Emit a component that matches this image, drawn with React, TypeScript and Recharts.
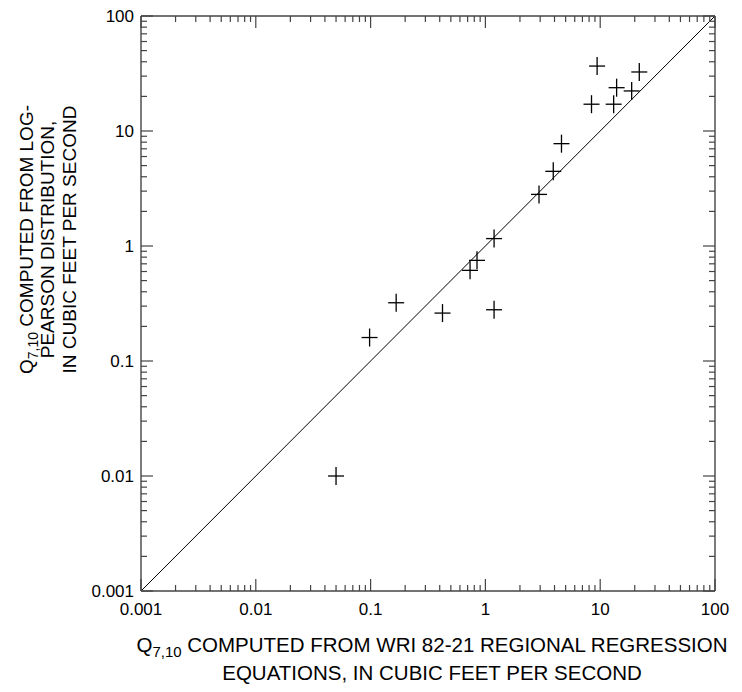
import { ScatterChart, Scatter, XAxis, YAxis, ReferenceLine } from 'recharts'

// Q7,10 regional regression (x) vs log-Pearson (y), cubic feet per second
const regression = [9.4, 21.9, 13.9, 18.8, 8.4, 13.1, 4.6, 3.9, 2.93, 1.19, 0.845, 0.735, 0.167, 0.098, 0.423, 1.19, 0.05]
const logPearson = [36.7, 32.6, 23.8, 22.3, 17.1, 17.1, 7.76, 4.46, 2.81, 1.16, 0.75, 0.614, 0.321, 0.16, 0.261, 0.279, 0.01]

const decades = [0.001, 0.01, 0.1, 1, 10, 100]
const minorSteps = [2, 3, 4, 5, 6, 7, 8, 9]

const points = regression.map((x, i) => ({ x, y: logPearson[i] }))
const ticks = decades.flatMap((d, i) =>
  i < decades.length - 1 ? [d, ...minorSteps.map(m => +(d * m).toPrecision(3))] : [d]
)
const oneToOne = [
  { x: decades[0], y: decades[0] },
  { x: decades[decades.length - 1], y: decades[decades.length - 1] },
]

const FONT = '"Liberation Sans", Arial, Helvetica, sans-serif'
const AXIS = '#444'
const MAJOR = 12
const MINOR = 6

const isMajor = (v: number) => Math.abs(Math.log10(v) - Math.round(Math.log10(v))) < 1e-6

// side: which edge of the frame the tick sits on; marks always point inward
function Tick(props: any) {
  const { x, y, payload, side } = props
  const v = payload.value
  const len = isMajor(v) ? MAJOR : MINOR
  const line =
    side === 'bottom' ? <line x1={x} x2={x} y1={y} y2={y - len} /> :
    side === 'top' ? <line x1={x} x2={x} y1={y} y2={y + len} /> :
    side === 'left' ? <line x1={x} x2={x + len} y1={y} y2={y} /> :
    <line x1={x} x2={x - len} y1={y} y2={y} />
  return (
    <g>
      <g stroke={AXIS} strokeWidth={1.2}>{line}</g>
      {isMajor(v) && side === 'bottom' && (
        <text x={x} y={y + 24} textAnchor="middle" fontSize={17} fontFamily={FONT} fill="#000">
          {String(v)}
        </text>
      )}
      {isMajor(v) && side === 'left' && (
        <text x={x - 7} y={y + 6} textAnchor="end" fontSize={17} fontFamily={FONT} fill="#000">
          {String(v)}
        </text>
      )}
    </g>
  )
}

function Plus({ cx, cy }: any) {
  return (
    <g stroke="#000" strokeWidth={1.3}>
      <line x1={cx - 8} x2={cx + 8} y1={cy} y2={cy} />
      <line x1={cx} x2={cx} y1={cy - 9} y2={cy + 9} />
    </g>
  )
}

function YTitle({ viewBox }: any) {
  const cy = viewBox.y + viewBox.height / 2 - 64
  const lines = ['PEARSON DISTRIBUTION,', 'IN CUBIC FEET PER SECOND']
  return (
    <g fontFamily={FONT} fontSize={19} fill="#000">
      <text transform={`translate(${viewBox.x - 48},${cy}) rotate(-90)`} textAnchor="middle">
        Q<tspan fontSize={14} dy={5}>7,10</tspan>
        <tspan dy={-5}> COMPUTED FROM LOG-</tspan>
      </text>
      {lines.map((t, i) => (
        <text key={t} transform={`translate(${viewBox.x - 27 + i * 22},${cy}) rotate(-90)`} textAnchor="middle">
          {t}
        </text>
      ))}
    </g>
  )
}

function XTitle({ viewBox }: any) {
  const cx = viewBox.x + viewBox.width / 2 + 4
  return (
    <g fontFamily={FONT} fontSize={20.5} fill="#000">
      <text x={cx} y={viewBox.y + 61} textAnchor="middle">
        Q<tspan fontSize={15} dy={5}>7,10</tspan>
        <tspan dy={-5}> COMPUTED FROM WRI 82-21 REGIONAL REGRESSION</tspan>
      </text>
      <text x={cx} y={viewBox.y + 89} textAnchor="middle">
        EQUATIONS, IN CUBIC FEET PER SECOND
      </text>
    </g>
  )
}

export default function App() {
  const axisProps = {
    type: 'number' as const,
    scale: 'log' as const,
    domain: [0.001, 100],
    ticks,
    interval: 0 as const,
    allowDataOverflow: true,
    tickLine: false,
    tickSize: 0,
    tickMargin: 0,
    axisLine: { stroke: AXIS, strokeWidth: 1.4 },
  }
  return (
    <ScatterChart width={734} height={684} margin={{ top: 7, right: 26, bottom: 71, left: 73 }}
      style={{ overflow: 'visible' }}>
      <XAxis {...axisProps} dataKey="x" height={30}
        tick={(p: any) => <Tick {...p} side="bottom" />} label={(p: any) => <XTitle {...p} />} />
      <XAxis {...axisProps} dataKey="x" xAxisId="top" orientation="top" height={1}
        tick={(p: any) => <Tick {...p} side="top" />} />
      <YAxis {...axisProps} dataKey="y" width={60}
        tick={(p: any) => <Tick {...p} side="left" />} label={(p: any) => <YTitle {...p} />} />
      <YAxis {...axisProps} dataKey="y" yAxisId="right" orientation="right" width={1}
        tick={(p: any) => <Tick {...p} side="right" />} />
      <ReferenceLine segment={oneToOne} stroke="#000" strokeWidth={1} ifOverflow="visible" />
      {/* gives the mirrored frame axes something to measure */}
      <Scatter data={oneToOne} xAxisId="top" yAxisId="right" shape={() => <g />} isAnimationActive={false} />
      <Scatter data={points} shape={<Plus />} isAnimationActive={false} />
    </ScatterChart>
  )
}
